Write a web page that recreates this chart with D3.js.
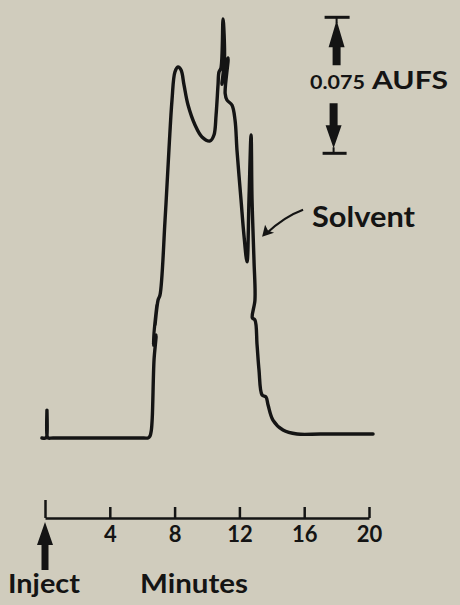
<!DOCTYPE html>
<html>
<head>
<meta charset="utf-8">
<script src="https://cdn.jsdelivr.net/npm/d3@7"></script>
<style>
  html, body { margin: 0; padding: 0; background: #d0ccbd; }
  svg { display: block; }
  text { font-family: Lato, "Open Sans", sans-serif; font-weight: 700; fill: #141414; }
</style>
</head>
<body>
<svg id="chart" width="460" height="605"></svg>
<script>
// detector trace
// time in minutes after injection, absorbance in AU above baseline
let traceMinutes = [
  -0.19, 0.05, 0.11, 0.12, 0.13, 0.19, 0.5, 3.0, 6.1, 6.36, 6.48, 6.56, 6.62,
  6.73, 6.85, 6.67, 6.91, 6.79, 6.98,
  7.10, 7.41, 7.65, 7.84, 8.02, 8.21, 8.40, 8.58, 8.83, 9.26, 9.69, 10.19,
  10.43, 10.56, 10.68, 10.74, 10.86, 10.99, 11.08, 10.92, 11.18, 11.30, 11.12, 11.23,
  11.54, 11.73, 11.85, 12.10, 12.28, 12.47, 12.59, 12.72, 12.78, 12.90, 12.96,
  12.80, 12.96, 13.09, 13.21, 13.40, 13.64, 13.77, 14.07, 14.69, 15.56, 17.0, 19.0, 20.25
];
let traceAbsorbance = [
  0, 0, 0.0010, 0.0154, 0.0010, 0, 0, 0, 0, 0, 0.0010, 0.0040, 0.0110,
  0.0430, 0.0568, 0.0513, 0.0733, 0.0623, 0.0761,
  0.0789, 0.1202, 0.1588, 0.1864, 0.2018, 0.2046, 0.2029, 0.1947, 0.1836, 0.1726, 0.1660, 0.1638,
  0.1671, 0.1781, 0.1947, 0.2018, 0.2040, 0.2311, 0.2090, 0.1950, 0.2070, 0.2096, 0.1900, 0.1864,
  0.1836, 0.1754, 0.1588, 0.1313, 0.1119, 0.0971, 0.1313, 0.1671, 0.1313, 0.0982, 0.0761,
  0.0662, 0.0651, 0.0513, 0.0375, 0.0237, 0.0226, 0.0182, 0.0099, 0.0044, 0.0022, 0.0022, 0.0022, 0.0022
];

let tickMinutes = [0, 4, 8, 12, 16, 20];
let tickLabels = ["", "4", "8", "12", "16", "20"];

// full-scale bar
let aufs = 0.075;
let aufsTop = 0.232;
let aufsAt = 18.0;

// solvent label points here
let solventAt = [13.4, 0.111];

let svg = d3.select("#chart");

let xScale = d3.scaleLinear().domain([0, 20]).range([45, 369]);
let yScale = d3.scaleLinear().domain([0, aufs]).range([438, 302]);

let ink = "#141414";

// trace
let points = traceMinutes.map((t, i) => [t, traceAbsorbance[i]]);
let line = d3.line()
  .x(d => xScale(d[0]))
  .y(d => yScale(d[1]))
  .curve(d3.curveCatmullRom.alpha(0.5));

svg.append("path")
  .datum(points)
  .attr("d", line)
  .attr("fill", "none")
  .attr("stroke", ink)
  .attr("stroke-width", 3.4)
  .attr("stroke-linejoin", "round")
  .attr("stroke-linecap", "round");

// time axis, ticks pointing up
let xAxis = d3.axisBottom(xScale)
  .tickValues(tickMinutes)
  .tickSizeInner(-11)
  .tickSizeOuter(0)
  .tickPadding(8)
  .tickFormat((d, i) => tickLabels[i]);

let gx = svg.append("g")
  .attr("transform", "translate(0, 518)")
  .call(xAxis);

gx.select(".domain").attr("stroke", ink).attr("stroke-width", 2.5);
gx.selectAll(".tick line").attr("stroke", ink).attr("stroke-width", 2.5)
  .attr("y2", d => d === 0 ? -18 : -11);
gx.selectAll(".tick text")
  .attr("font-family", "Lato, sans-serif")
  .attr("font-weight", 700)
  .attr("font-size", 22)
  .attr("fill", ink);

// inject arrow
let ix = xScale(0);
svg.append("path")
  .attr("d", `M${ix},522 L${ix + 8},545 L${ix + 3.5},545 L${ix + 3.5},570 L${ix - 3.5},570 L${ix - 3.5},545 L${ix - 8},545 Z`)
  .attr("fill", ink);

svg.append("text")
  .attr("x", 8).attr("y", 593)
  .attr("font-size", 26)
  .attr("textLength", 72)
  .attr("lengthAdjust", "spacingAndGlyphs")
  .text("Inject");

svg.append("text")
  .attr("x", 140).attr("y", 593)
  .attr("font-size", 26)
  .attr("textLength", 108)
  .attr("lengthAdjust", "spacingAndGlyphs")
  .text("Minutes");

// scale bar
let sx = xScale(aufsAt);
let sTop = yScale(aufsTop);
let sBot = yScale(aufsTop - aufs);

let bar = svg.append("g").attr("fill", ink).attr("stroke", ink);
bar.append("line").attr("x1", sx - 12).attr("x2", sx + 13).attr("y1", sTop).attr("y2", sTop).attr("stroke-width", 3);
bar.append("line").attr("x1", sx).attr("x2", sx).attr("y1", sTop).attr("y2", sTop + 6).attr("stroke-width", 2);
bar.append("path")
  .attr("stroke", "none")
  .attr("d", `M${sx},${sTop + 3} L${sx + 8},${sTop + 30} L${sx + 4},${sTop + 30} L${sx + 4},${sTop + 48} L${sx - 4},${sTop + 48} L${sx - 4},${sTop + 30} L${sx - 8},${sTop + 30} Z`);

let dx = sx - 3;
bar.append("line").attr("x1", dx - 11).attr("x2", dx + 13).attr("y1", sBot).attr("y2", sBot).attr("stroke-width", 3);
bar.append("line").attr("x1", dx).attr("x2", dx).attr("y1", sBot).attr("y2", sBot - 6).attr("stroke-width", 2);
bar.append("path")
  .attr("stroke", "none")
  .attr("d", `M${dx},${sBot - 5} L${dx + 8},${sBot - 28} L${dx + 4},${sBot - 28} L${dx + 4},${sBot - 50} L${dx - 4},${sBot - 50} L${dx - 4},${sBot - 28} L${dx - 8},${sBot - 28} Z`);

svg.append("text")
  .attr("x", 310).attr("y", 89)
  .attr("font-size", 18)
  .attr("textLength", 55)
  .attr("lengthAdjust", "spacingAndGlyphs")
  .text("0.075");

svg.append("text")
  .attr("x", 372).attr("y", 89)
  .attr("font-size", 24)
  .attr("textLength", 76)
  .attr("lengthAdjust", "spacingAndGlyphs")
  .text("AUFS");

// solvent annotation
let px = xScale(solventAt[0]);
let py = yScale(solventAt[1]);

svg.append("path")
  .attr("d", `M${px + 41},${py - 27} Q${px + 22},${py - 20} ${px + 4},${py - 3}`)
  .attr("fill", "none")
  .attr("stroke", ink)
  .attr("stroke-width", 2.2);

svg.append("path")
  .attr("d", `M${px},${py} L${px + 3},${py - 12} L${px + 6},${py - 6} L${px + 12},${py - 4} Z`)
  .attr("fill", ink);

svg.append("text")
  .attr("x", 312).attr("y", 227)
  .attr("font-size", 29)
  .attr("textLength", 103)
  .attr("lengthAdjust", "spacingAndGlyphs")
  .text("Solvent");
</script>
</body>
</html>
